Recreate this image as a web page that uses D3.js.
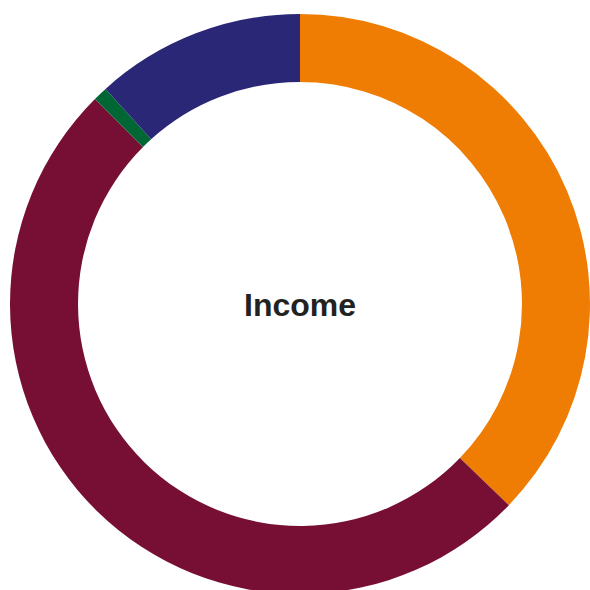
<!DOCTYPE html>
<html>
<head>
<meta charset="utf-8">
<script src="https://cdn.jsdelivr.net/npm/d3@7"></script>
<style>
  html, body { margin: 0; padding: 0; background: #fff; }
  svg { display: block; }
</style>
</head>
<body>
<div id="chart"></div>
<script>
const categories = ["Orange", "Maroon", "Green", "Blue"];
const values = [37.2, 50.3, 0.8, 11.7];
const colors = ["#ef7d04", "#770f35", "#006633", "#2b2777"];
const title = "Income";

const width = 590, height = 590;
const cx = 300, cy = 304;
const outerR = 290, innerR = 222;

const svg = d3.select("#chart")
    .append("svg")
    .attr("width", width)
    .attr("height", height);

const g = svg.append("g").attr("transform", `translate(${cx},${cy})`);

const pie = d3.pie().sort(null).value((d) => d.value);
const arc = d3.arc().innerRadius(innerR).outerRadius(outerR);

const data = categories.map((c, i) => ({ name: c, value: values[i], color: colors[i] }));

g.selectAll("path")
    .data(pie(data))
    .enter()
    .append("path")
    .attr("d", arc)
    .attr("fill", (d) => d.data.color);

g.append("text")
    .attr("x", 0)
    .attr("y", 12)
    .attr("text-anchor", "middle")
    .style("font-family", "Liberation Sans, Arial, sans-serif")
    .style("font-weight", "bold")
    .style("font-size", "32px")
    .style("fill", "#222")
    .text(title);
</script>
</body>
</html>
